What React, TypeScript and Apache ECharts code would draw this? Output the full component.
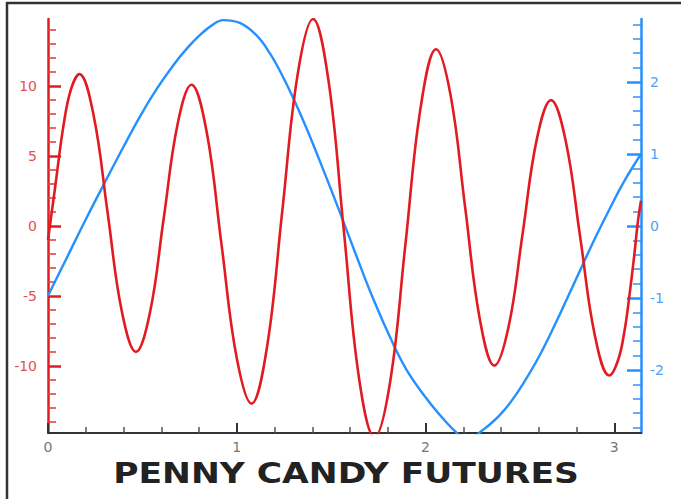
import React, { useEffect, useRef } from "react";
import * as echarts from "echarts";

// ---- data ----
const xMin = 0;
const xMax = 3.1416;
const leftMin = -14.8;
const leftMax = 14.8;
const rightMin = -2.875;
const rightMax = 2.875;

const xMajor = [0, 1, 2, 3];
const xMinor = [0.2, 0.4, 0.6, 0.8, 1.2, 1.4, 1.6, 1.8, 2.2, 2.4, 2.6, 2.8];
const leftMajor = [-10, -5, 0, 5, 10];
const leftMinor = [-14, -13, -12, -11, -9, -8, -7, -6, -4, -3, -2, -1, 1, 2, 3, 4, 6, 7, 8, 9, 11, 12, 13, 14];
const rightMajor = [-2, -1, 0, 1, 2];
const rightMinor = [-2.8, -2.6, -2.4, -2.2, -1.8, -1.6, -1.4, -1.2, -0.8, -0.6, -0.4, -0.2, 0.2, 0.4, 0.6, 0.8, 1.2, 1.4, 1.6, 1.8, 2.2, 2.4, 2.6, 2.8];

// red series (left axis)
const redPoints: [number, number][] = [
  [0, -1.0], [0.04, 3.0], [0.08, 7.0], [0.12, 9.7], [0.166, 10.86],
  [0.241, 7.96], [0.316, 0.93], [0.391, -6.1], [0.466, -9.0],
  [0.54, -6.21], [0.613, 0.55], [0.687, 7.31], [0.76, 10.1],
  [0.84, 6.77], [0.919, -1.3], [0.999, -9.37], [1.078, -12.7],
  [1.16, -8.68], [1.241, 1.05], [1.322, 10.79], [1.404, 14.8],
  [1.486, 10.39], [1.567, -0.3], [1.648, -10.9], [1.73, -15.1],
  [1.812, -11.2], [1.893, -1.38], [1.975, 8.55], [2.056, 12.64],
  [2.133, 9.34], [2.21, 1.33], [2.288, -6.68], [2.365, -9.98],
  [2.44, -7.21], [2.515, -0.49], [2.59, 6.23], [2.665, 9.0],
  [2.742, 6.13], [2.82, -0.85], [2.897, -7.82], [2.974, -10.69],
  [3.02, -9.6], [3.053, -7.6], [3.08, -5.0], [3.105, -2.2], [3.125, 0.3], [3.1416, 1.8],
];

// blue series (right axis)
const bluePoints: [number, number][] = [
  [0, -0.97], [0.1, -0.44], [0.2, 0.09], [0.3, 0.6], [0.4, 1.1],
  [0.487, 1.52], [0.575, 1.9], [0.663, 2.23], [0.734, 2.46], [0.804, 2.65],
  [0.87, 2.79], [0.928, 2.86], [1.016, 2.82], [1.104, 2.65], [1.175, 2.4],
  [1.245, 2.07], [1.302, 1.76], [1.369, 1.36], [1.457, 0.79], [1.545, 0.2],
  [1.633, -0.41], [1.721, -1.0], [1.827, -1.63], [1.898, -1.99], [1.986, -2.33],
  [2.074, -2.62], [2.16, -2.86], [2.21, -2.95], [2.26, -2.92], [2.3, -2.84],
  [2.339, -2.76], [2.392, -2.63], [2.45, -2.45], [2.515, -2.2], [2.6, -1.82],
  [2.691, -1.34], [2.76, -0.95], [2.832, -0.54], [2.9, -0.16], [2.974, 0.23],
  [3.05, 0.61], [3.1416, 1.0],
];

const titleText = "PENNY CANDY FUTURES";

const RED = "#e21b22";
const BLUE = "#2590ff";
const FONT = "DejaVu Sans";

export default function App() {
  const ref = useRef<HTMLDivElement>(null);
  useEffect(() => {
    if (!ref.current) return;
    const chart = echarts.init(ref.current, null, { renderer: "svg" });
    const baseX = {
      type: "value",
      position: "bottom",
      min: xMin,
      max: xMax,
      splitLine: { show: false },
    };
    const baseLeft = { type: "value", position: "left", min: leftMin, max: leftMax, splitLine: { show: false } };
    const baseRight = { type: "value", position: "right", min: rightMin, max: rightMax, splitLine: { show: false } };
    chart.setOption({
      animation: false,
      backgroundColor: "#ffffff",
      grid: { left: 48, right: 40, top: 19, bottom: 66 },
      xAxis: [
        {
          ...baseX,
          axisLine: { onZero: false, lineStyle: { color: "#333", width: 2 } },
          axisTick: { inside: true, length: 10, lineStyle: { color: "#333", width: 2 }, customValues: xMajor },
          axisLabel: { customValues: xMajor, color: "#777", fontSize: 14, fontFamily: FONT, margin: 7 },
        },
        {
          ...baseX,
          axisLine: { show: false, onZero: false },
          axisTick: { inside: true, length: 6, lineStyle: { color: "#555", width: 1.5 }, customValues: xMinor },
          axisLabel: { show: false },
        },
      ],
      yAxis: [
        {
          ...baseLeft,
          axisLine: { show: true, onZero: false, lineStyle: { color: RED, width: 2.5 } },
          axisTick: { show: true, inside: true, length: 13, lineStyle: { color: RED, width: 2.5 }, customValues: leftMajor },
          axisLabel: { customValues: leftMajor, color: "#e4504c", fontSize: 14, fontFamily: FONT, margin: 11 },
        },
        {
          ...baseLeft,
          axisLine: { show: false, onZero: false },
          axisTick: { show: true, inside: true, length: 8, lineStyle: { color: "#e6403f", width: 1.6 }, customValues: leftMinor },
          axisLabel: { show: false },
        },
        {
          ...baseRight,
          axisLine: { show: true, onZero: false, lineStyle: { color: BLUE, width: 2.5 } },
          axisTick: { show: true, inside: true, length: 14, lineStyle: { color: BLUE, width: 2.5 }, customValues: rightMajor },
          axisLabel: { customValues: rightMajor, color: "#4f9ff2", fontSize: 14, fontFamily: FONT, margin: 9 },
        },
        {
          ...baseRight,
          axisLine: { show: false, onZero: false },
          axisTick: { show: true, inside: true, length: 8, lineStyle: { color: "#3d98f5", width: 1.6 }, customValues: rightMinor },
          axisLabel: { show: false },
        },
      ],
      series: [
        {
          type: "line",
          xAxisIndex: 0,
          yAxisIndex: 2,
          data: bluePoints,
          symbol: "none",
          showSymbol: false,
          smooth: 0.4,
          clip: true,
          lineStyle: { color: BLUE, width: 2.4 },
          z: 2,
        },
        {
          type: "line",
          xAxisIndex: 0,
          yAxisIndex: 0,
          data: redPoints,
          symbol: "none",
          showSymbol: false,
          smooth: 0.4,
          clip: true,
          lineStyle: { color: RED, width: 2.6 },
          z: 3,
        },
      ],
      graphic: [
        { type: "line", shape: { x1: 6, y1: 3, x2: 681, y2: 3 }, style: { stroke: "#333", lineWidth: 2.5 } },
        { type: "line", shape: { x1: 7, y1: 2, x2: 7, y2: 499 }, style: { stroke: "#333", lineWidth: 2.5 } },
        {
          type: "text",
          x: 346,
          y: 473,
          scaleX: 1.19,
          style: {
            text: titleText,
            fontSize: 29,
            fontWeight: "bold",
            fontFamily: FONT,
            fill: "#222",
            align: "center",
            verticalAlign: "middle",
            textAlign: "center",
            textVerticalAlign: "middle",
          },
        },
      ],
    });
    return () => chart.dispose();
  }, []);
  return (
    <div
      ref={ref}
      style={{ position: "fixed", left: 0, top: 0, width: 681, height: 499, background: "#fff" }}
    />
  );
}
